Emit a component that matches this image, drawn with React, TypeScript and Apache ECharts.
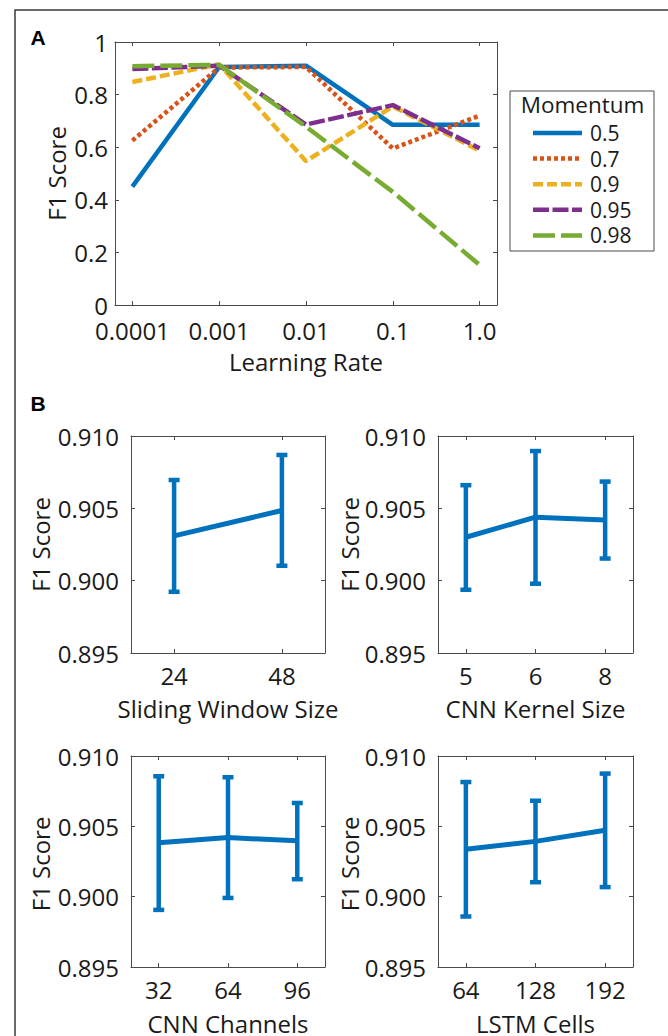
import React, { useEffect, useRef } from "react";
import * as echarts from "echarts";

// ---------- Panel A data ----------
const LR_LABELS = ["0.0001", "0.001", "0.01", "0.1", "1.0"];
const MOMENTUM = ["0.5", "0.7", "0.9", "0.95", "0.98"];
const F1_M05 = [0.45, 0.905, 0.91, 0.685, 0.685];
const F1_M07 = [0.625, 0.903, 0.905, 0.595, 0.72];
const F1_M09 = [0.848, 0.915, 0.547, 0.755, 0.587];
const F1_M095 = [0.897, 0.91, 0.686, 0.76, 0.596];
const F1_M098 = [0.908, 0.913, 0.678, 0.43, 0.152];
const A_TICKS = [0, 0.2, 0.4, 0.6, 0.8, 1];

// ---------- Panel B data ----------
const WINDOW_SIZES = ["24", "48"];
const WINDOW_MEAN = [0.9031, 0.90485];
const WINDOW_LOW = [0.89923, 0.90103];
const WINDOW_HIGH = [0.90696, 0.90869];

const KERNEL_SIZES = ["5", "6", "8"];
const KERNEL_MEAN = [0.903, 0.90439, 0.9042];
const KERNEL_LOW = [0.89937, 0.89979, 0.90153];
const KERNEL_HIGH = [0.9066, 0.90896, 0.90685];

const CHANNELS = ["32", "64", "96"];
const CHANNEL_MEAN = [0.90383, 0.9042, 0.90397];
const CHANNEL_LOW = [0.89906, 0.89991, 0.90124];
const CHANNEL_HIGH = [0.90856, 0.90849, 0.90666];

const LSTM_CELLS = ["64", "128", "192"];
const LSTM_MEAN = [0.90337, 0.90393, 0.90472];
const LSTM_LOW = [0.89859, 0.90103, 0.90068];
const LSTM_HIGH = [0.90815, 0.90682, 0.90875];

const B_TICKS = [0.895, 0.9, 0.905, 0.91];
const Y_TITLE = "F1 Score";

const FONT = "Open Sans";
const FS = 24;
const TEXT = "#1a1a1a";
const AXIS = "#4a4a4a";
const BLUE = "#0072BD";
const COLORS = ["#0072BD", "#D95319", "#EDB120", "#7E2F8E", "#77AC30"];
const DASHES: any[] = ["solid", [4, 3], [10, 4], [16, 3.5], [22, 6]];

function xAxesFor(g: number, min: number, max: number, labels: string[], name: string, nameGap: number, margin: number) {
  const vals = labels.map((_, i) => i);
  return [
    {
      type: "value",
      gridIndex: g,
      min,
      max,
      axisLine: { show: true, onZero: false, lineStyle: { color: AXIS, width: 1 } },
      axisTick: { show: true, inside: true, length: 4, customValues: vals, lineStyle: { color: AXIS } },
      axisLabel: {
        customValues: vals,
        formatter: (v: number) => labels[Math.round(v)] ?? "",
        margin,
        fontFamily: FONT,
        fontSize: FS,
        lineHeight: 22,
        color: TEXT,
      },
      splitLine: { show: false },
      name,
      nameLocation: "middle",
      nameGap,
      nameTextStyle: { fontFamily: FONT, fontSize: FS, color: TEXT },
    },
    {
      type: "value",
      gridIndex: g,
      position: "top",
      min,
      max,
      axisLine: { show: true, onZero: false, lineStyle: { color: AXIS, width: 1 } },
      axisTick: { show: true, inside: true, length: 4, customValues: vals, lineStyle: { color: AXIS } },
      axisLabel: { show: false },
      splitLine: { show: false },
    },
  ];
}

function yAxesFor(g: number, ticks: number[], digits: number, margin: number) {
  return [
    {
      type: "value",
      gridIndex: g,
      min: ticks[0],
      max: ticks[ticks.length - 1],
      axisLine: { show: true, onZero: false, lineStyle: { color: AXIS, width: 1 } },
      axisTick: { show: true, inside: true, length: 4, customValues: ticks, lineStyle: { color: AXIS } },
      axisLabel: {
        customValues: ticks,
        formatter: (v: number) => (digits === 0 ? String(Math.round(v * 10) / 10) : v.toFixed(digits)),
        margin,
        fontFamily: FONT,
        fontSize: FS,
        lineHeight: 22,
        color: TEXT,
      },
      splitLine: { show: false },
    },
    {
      type: "value",
      gridIndex: g,
      position: "right",
      min: ticks[0],
      max: ticks[ticks.length - 1],
      axisLine: { show: true, onZero: false, lineStyle: { color: AXIS, width: 1 } },
      axisTick: { show: true, inside: true, length: 4, customValues: ticks, lineStyle: { color: AXIS } },
      axisLabel: { show: false },
      splitLine: { show: false },
    },
  ];
}

function errorSeries(g: number, mean: number[], low: number[], high: number[]) {
  return [
    {
      type: "line",
      xAxisIndex: g * 2,
      yAxisIndex: g * 2,
      data: mean.map((m, i) => [i, m]),
      symbol: "none",
      lineStyle: { color: BLUE, width: 5 },
      z: 3,
    },
    {
      type: "custom",
      xAxisIndex: g * 2,
      yAxisIndex: g * 2,
      data: low.map((l, i) => [i, l, high[i]]),
      renderItem: (_p: any, api: any) => {
        const x = api.value(0);
        const lo = api.coord([x, api.value(1)]);
        const hi = api.coord([x, api.value(2)]);
        const cw = 11;
        const st = { stroke: BLUE, lineWidth: 4.5 };
        return {
          type: "group",
          children: [
            { type: "line", shape: { x1: lo[0], y1: lo[1], x2: hi[0], y2: hi[1] }, style: st },
            { type: "line", shape: { x1: lo[0] - cw / 2, y1: lo[1], x2: lo[0] + cw / 2, y2: lo[1] }, style: st },
            { type: "line", shape: { x1: hi[0] - cw / 2, y1: hi[1], x2: hi[0] + cw / 2, y2: hi[1] }, style: st },
          ],
        };
      },
      z: 4,
    },
  ];
}

export default function App() {
  const ref = useRef<HTMLDivElement>(null);

  useEffect(() => {
    if (!ref.current) return;
    const chart = echarts.init(ref.current, undefined, { renderer: "svg" });

    const aSeries = [F1_M05, F1_M07, F1_M09, F1_M095, F1_M098];
    const grids = [
      { left: 115, top: 42, width: 382, height: 263 },
      { left: 131, top: 436, width: 194, height: 217 },
      { left: 438, top: 436, width: 195, height: 217 },
      { left: 131, top: 756, width: 194, height: 216 },
      { left: 438, top: 756, width: 195, height: 216 },
    ];

    const xAxis = [
      ...xAxesFor(0, -0.2, 4.2, LR_LABELS, "Learning Rate", 44, 14),
      ...xAxesFor(1, -0.4, 1.4, WINDOW_SIZES, "Sliding Window Size", 43, 11),
      ...xAxesFor(2, -0.4, 2.4, KERNEL_SIZES, "CNN Kernel Size", 43, 11),
      ...xAxesFor(3, -0.4, 2.4, CHANNELS, "CNN Channels", 44, 11),
      ...xAxesFor(4, -0.4, 2.4, LSTM_CELLS, "LSTM Cells", 44, 11),
    ];
    const yAxis = [
      ...yAxesFor(0, A_TICKS, 0, 7),
      ...yAxesFor(1, B_TICKS, 3, 12),
      ...yAxesFor(2, B_TICKS, 3, 12),
      ...yAxesFor(3, B_TICKS, 3, 12),
      ...yAxesFor(4, B_TICKS, 3, 12),
    ];

    const series: any[] = aSeries.map((vals, k) => ({
      type: "line",
      name: MOMENTUM[k],
      xAxisIndex: 0,
      yAxisIndex: 0,
      data: vals.map((v, i) => [i, v]),
      symbol: "none",
      color: COLORS[k],
      lineStyle: { color: COLORS[k], width: 4.5, type: DASHES[k], cap: "butt" },
      z: 2 + k,
    }));
    series.push(...errorSeries(1, WINDOW_MEAN, WINDOW_LOW, WINDOW_HIGH));
    series.push(...errorSeries(2, KERNEL_MEAN, KERNEL_LOW, KERNEL_HIGH));
    series.push(...errorSeries(3, CHANNEL_MEAN, CHANNEL_LOW, CHANNEL_HIGH));
    series.push(...errorSeries(4, LSTM_MEAN, LSTM_LOW, LSTM_HIGH));

    // rotated y-axis titles, one per grid, centred on the grid's height
    const yTitleX = [56, 40.5, 349, 40.5, 349];
    const yTitles = grids.map((gr, i) => ({
      type: "text",
      x: yTitleX[i],
      y: gr.top + gr.height / 2,
      rotation: Math.PI / 2,
      style: { text: Y_TITLE, fontFamily: FONT, fontSize: FS, fill: TEXT, align: "center", verticalAlign: "middle" },
    }));

    // legend drawn as graphics (line samples + labels)
    const legendItems: any[] = [];
    MOMENTUM.forEach((label, k) => {
      const y = 133 + k * 25.6;
      const dash = DASHES[k];
      legendItems.push({
        type: "line",
        shape: { x1: 533, y1: y, x2: 582, y2: y },
        style: {
          stroke: COLORS[k],
          lineWidth: 4.5,
          lineDash: Array.isArray(dash) ? dash : null,
          lineCap: "butt",
        },
        silent: true,
      });
      legendItems.push({
        type: "text",
        x: 590,
        y,
        style: { text: label, fontFamily: FONT, fontSize: 21, lineHeight: 22, fill: TEXT, align: "left", verticalAlign: "middle" },
      });
    });

    chart.setOption({
      animation: false,
      backgroundColor: "#ffffff",
      grid: grids,
      xAxis,
      yAxis,
      graphic: [
        {
          type: "rect",
          shape: { x: 15, y: 10, width: 700, height: 1100 },
          style: { fill: "none", stroke: "#3a3a3a", lineWidth: 1.5 },
          silent: true,
        },
        {
          type: "rect",
          shape: { x: 510, y: 91, width: 144, height: 160 },
          style: { fill: "#ffffff", stroke: "#4a4a4a", lineWidth: 1 },
          silent: true,
        },
        {
          type: "text",
          x: 582.5,
          y: 104,
          style: { text: "Momentum", fontFamily: FONT, fontSize: 22.5, lineHeight: 22, fill: TEXT, align: "center", verticalAlign: "middle" },
        },
        ...legendItems,
        ...yTitles,
        {
          type: "text",
          x: 38,
          y: 37,
          style: { text: "A", fontFamily: "Liberation Sans", fontWeight: "bold", fontSize: 21, fill: "#000", align: "center", verticalAlign: "middle" },
        },
        {
          type: "text",
          x: 38,
          y: 403,
          style: { text: "B", fontFamily: "Liberation Sans", fontWeight: "bold", fontSize: 21, fill: "#000", align: "center", verticalAlign: "middle" },
        },
      ],
      series,
    });

    return () => chart.dispose();
  }, []);

  return (
    <div
      ref={ref}
      style={{ position: "absolute", left: 0, top: 0, width: 668, height: 1036 }}
    />
  );
}
